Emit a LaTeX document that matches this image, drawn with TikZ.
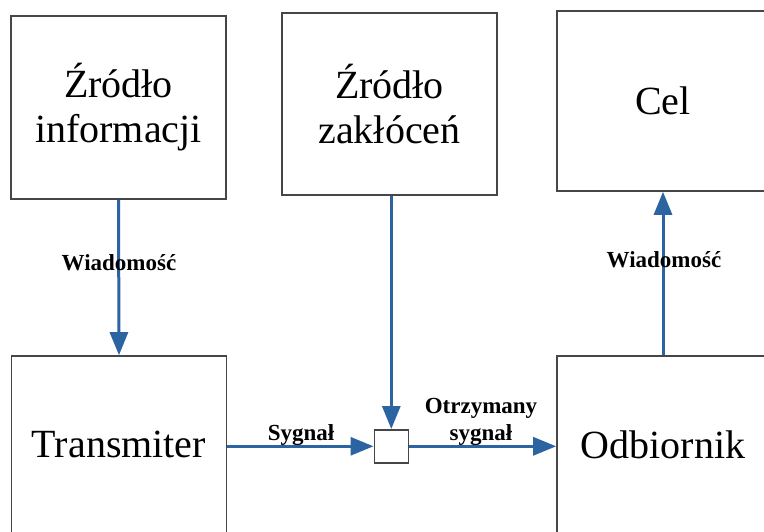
\documentclass[tikz,border=0pt]{standalone}
\usepackage{fontspec}
\setmainfont{Liberation Serif}
\usetikzlibrary{arrows.meta}
\definecolor{arrowblue}{RGB}{44,100,162}
\definecolor{boxgray}{RGB}{70,70,70}
\tikzset{
  box/.style={draw=boxgray, line width=1.6pt, fill=white, inner sep=0pt, align=center,
    font=\fontsize{40}{45}\selectfont},
  flow/.style={draw=arrowblue, line width=3pt, -{Triangle[length=23pt,width=18pt]}},
  lbl/.style={font=\fontsize{23}{27}\selectfont\bfseries, inner sep=0pt, align=center},
  junction/.style={draw=boxgray, line width=1.6pt, fill=white, minimum width=34pt, minimum height=33pt, inner sep=0pt}
}
\begin{document}
\begin{tikzpicture}[x=1pt,y=-1pt]
\useasboundingbox (0,0) rectangle (764,532);
\clip (0,0) rectangle (764,532);
\fill[white] (0,0) rectangle (764,532);
% boxes
\node[box, minimum width=215pt, minimum height=183pt] (src) at (118.5,107.5) {Źródło\\informacji};
\node[box, minimum width=215pt, minimum height=182pt] (noise) at (389.5,104) {Źródło\\zakłóceń};
\node[box, minimum width=212pt, minimum height=180pt] (dst) at (663,101) {Cel};
\node[box, minimum width=215pt, minimum height=183pt, text depth=6pt] (tx) at (119,447.5) {Transmiter};
\node[box, minimum width=212pt, minimum height=183pt, text depth=6pt] (rx) at (663,447.5) {Odbiornik};
\node[junction] (mix) at (391.3,446.3) {};
% connectors
\draw[flow] (src.south) -- (tx.north);
\draw[flow] (noise.south -| mix.north) -- (mix.north);
\draw[flow] (tx.east |- mix.west) -- (mix.west);
\draw[flow] (mix.east) -- (rx.west |- mix.east);
\draw[flow] (rx.north) -- (dst.south);
% labels
\node[lbl, anchor=base] (l1) at (119,270) {Wiadomość};
\node[lbl, anchor=base] (l2) at (664,268) {Wiadomość};
\node[lbl, anchor=south] (l3) at (301,446) {Sygnał};
\node[lbl, anchor=south] (l4) at (481,446) {Otrzymany\\sygnał};
\end{tikzpicture}
\end{document}
